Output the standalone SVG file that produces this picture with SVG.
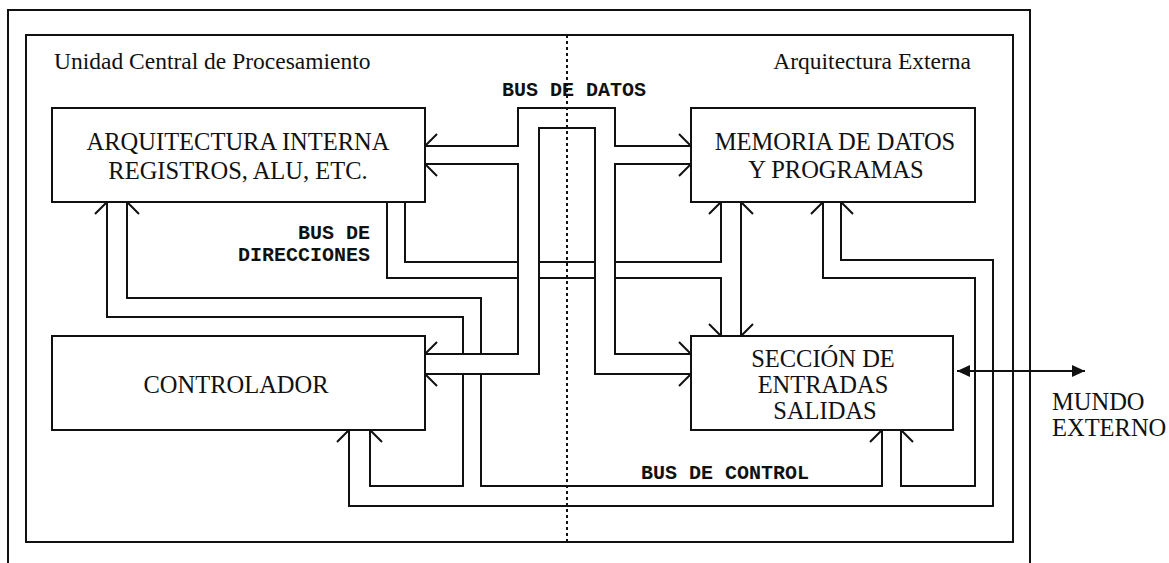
<svg xmlns="http://www.w3.org/2000/svg" width="1169" height="563" viewBox="0 0 1169 563">
<style>
.frame{fill:none;stroke:#111;stroke-width:2}
.box{fill:#fff;stroke:#111;stroke-width:2}
.w{fill:none;stroke:#111;stroke-width:2;stroke-linejoin:miter;stroke-linecap:butt}
.dot{fill:none;stroke:#111;stroke-width:2;stroke-dasharray:3 3}
.lbl{font-family:"Liberation Serif",serif;font-size:24.5px;fill:#111;text-anchor:middle}
.cap{font-family:"Liberation Serif",serif;font-size:23.5px;fill:#111}
.bus{font-family:"Liberation Mono",monospace;font-weight:bold;font-size:20px;fill:#111}
</style>
<defs>
<marker id="ah" viewBox="0 0 13 12" refX="13" refY="6" markerWidth="13" markerHeight="12" markerUnits="userSpaceOnUse" orient="auto-start-reverse">
<path d="M0,0 L13,6 L0,12 Z" fill="#111"/>
</marker>
</defs>
<rect width="1169" height="563" fill="#fff"/>
<g id="frames">
<path class="frame" d="M8,570 V10 H1030 V570"/>
<rect class="frame" x="26" y="35" width="987" height="507"/>
<path class="dot" d="M567,35 V542"/>
<text class="cap" x="54" y="69">Unidad Central de Procesamiento</text>
<text class="cap" x="971" y="69" text-anchor="end">Arquitectura Externa</text>
</g>
<g id="connectors">
<path class="w" d="M437,134 L425,146 H518 V108 H615 V146 H691 L679,134"/>
<path class="w" d="M437,176 L425,164 H518 V354 H425 L437,342"/>
<path class="w" d="M437,386 L425,374 H539 V128 H595 V374 H691 L679,386"/>
<path class="w" d="M679,176 L691,164 H615 V354 H691 L679,342"/>
<path class="w" d="M405,202 V262 H518 M539,262 H595 M615,262 H721 V202 L709,214"/>
<path class="w" d="M387,202 V278 H518 M539,278 H595 M615,278 H721 V336 L709,324"/>
<path class="w" d="M753,214 L741,202 V336 L753,324"/>
<path class="w" d="M95,214 L107,202 V317 H463 V354 M463,374 V486 H370 V430 L382,442"/>
<path class="w" d="M139,214 L127,202 V298 H481 V354 M481,374 V486 H882 V430 L870,442"/>
<path class="w" d="M337,442 L349,430 V506 H993 V260 H841 V202 L853,214"/>
<path class="w" d="M913,442 L901,430 V486 H975 V278 H823 V202 L811,214"/>
<path class="w" d="M957,371 H1085" marker-start="url(#ah)" marker-end="url(#ah)"/>
<text class="bus" x="574" y="96" text-anchor="middle">BUS DE DATOS</text>
<text class="bus" x="370" y="239" text-anchor="end">BUS DE</text>
<text class="bus" x="370" y="261" text-anchor="end">DIRECCIONES</text>
<text class="bus" x="641" y="479">BUS DE CONTROL</text>
</g>
<g id="arq">
<rect class="box" x="52" y="108" width="373" height="94"/>
<text class="lbl" x="238" y="150">ARQUITECTURA INTERNA</text>
<text class="lbl" x="238" y="179">REGISTROS, ALU, ETC.</text>
</g>
<g id="mem">
<rect class="box" x="691" y="108" width="284" height="94"/>
<text class="lbl" x="835" y="150">MEMORIA DE DATOS</text>
<text class="lbl" x="836" y="178">Y PROGRAMAS</text>
</g>
<g id="ctrl">
<rect class="box" x="52" y="336" width="373" height="94"/>
<text class="lbl" x="236" y="393">CONTROLADOR</text>
</g>
<g id="es">
<rect class="box" x="691" y="336" width="262" height="94"/>
<text class="lbl" x="823" y="367">SECCIÓN DE</text>
<text class="lbl" x="823" y="393">ENTRADAS</text>
<text class="lbl" x="825" y="419">SALIDAS</text>
</g>
<g id="mundo">
<text class="cap" x="1052" y="410" style="font-size:24.5px">MUNDO</text>
<text class="cap" x="1052" y="436" style="font-size:24.5px">EXTERNO</text>
</g>
</svg>
